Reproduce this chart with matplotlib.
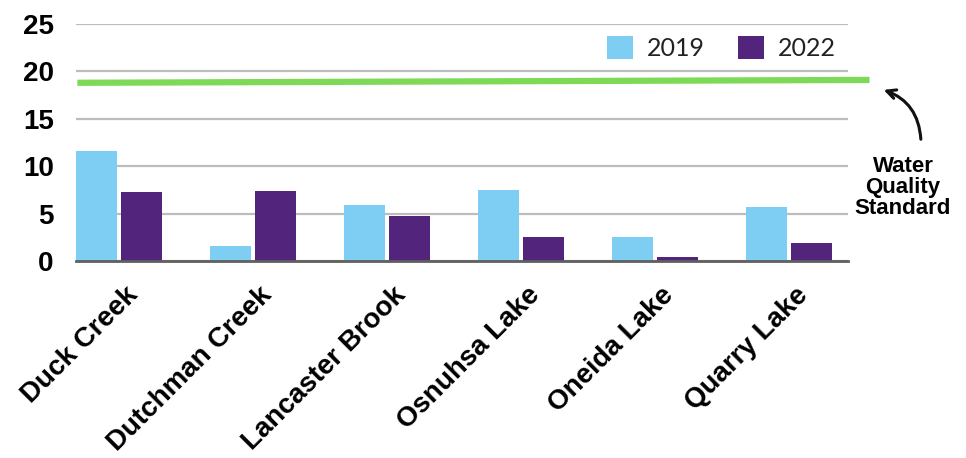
import numpy as np
import matplotlib.transforms as mtransforms
from matplotlib import pyplot as plt

sites = ['Duck Creek', 'Dutchman Creek', 'Lancaster Brook', 'Osnuhsa Lake', 'Oneida Lake', 'Quarry Lake']
values_2019 = [11.6, 1.6, 5.9, 7.5, 2.5, 5.7]
values_2022 = [7.3, 7.4, 4.7, 2.5, 0.4, 1.9]
standard_ends = [18.8, 19.1]
y_ticks = [0, 5, 10, 15, 20, 25]

blue = '#7ecef4'
purple = '#52247c'
green = '#7ed957'
bold_font = ['Liberation Sans', 'DejaVu Sans']

fig = plt.figure(figsize=(9.66, 4.58), dpi=100)
ax = fig.add_axes([76 / 966, 1 - 261 / 458, 772 / 966, 237 / 458])

x = np.arange(len(sites))
w = 0.306
off = 0.168
ax.bar(x - off, values_2019, w, color=blue, label='2019', zorder=3)
ax.bar(x + off, values_2022, w, color=purple, label='2022', zorder=3)

# standard line runs a bit past the plot area
ax.plot([-0.31, 5.60], standard_ends, color=green, lw=4.5, clip_on=False,
        solid_capstyle='butt', zorder=4)

ax.set_xlim(-0.32, 5.44)
ax.set_ylim(0, 25)
ax.set_yticks(y_ticks)
ax.set_yticklabels([str(t) for t in y_ticks], fontsize=20, fontweight='bold',
                   family=bold_font)
ax.tick_params(axis='y', length=0, pad=16)

ax.set_xticks(x)
ax.set_xticklabels(sites, rotation=45, ha='right', va='top', rotation_mode='anchor',
                   fontsize=20, fontweight='bold', family=bold_font)
ax.tick_params(axis='x', length=0, pad=15)
shift = mtransforms.ScaledTranslation(6 / 100, 0, fig.dpi_scale_trans)
for lab in ax.get_xticklabels():
    lab.set_transform(lab.get_transform() + shift)

ax.grid(axis='y', color='#bdbdbd', lw=1.6, zorder=0)
for s in ['top', 'right', 'left']:
    ax.spines[s].set_visible(False)
ax.spines['bottom'].set_color('#5f5f5f')
ax.spines['bottom'].set_linewidth(2)
ax.spines['bottom'].set_zorder(5)

leg = ax.legend(loc='upper right', bbox_to_anchor=(1.013, 1.044), ncol=2, frameon=False,
                handlelength=1.05, handleheight=1.05, handletextpad=0.55,
                columnspacing=1.3, prop={'family': 'Lato', 'size': 18})
for t in leg.get_texts():
    t.set_color('#222222')

ax.annotate('', xy=(881, 458 - 89), xycoords='figure pixels',
            xytext=(921, 458 - 142), textcoords='figure pixels',
            arrowprops=dict(arrowstyle='->', color='#111111', lw=2.2,
                            connectionstyle='arc3,rad=0.35', mutation_scale=16))
fig.text(903 / 966, 1 - 187 / 458, 'Water\nQuality\nStandard', ha='center', va='center',
         fontsize=16, fontweight='bold', family=bold_font, linespacing=1.0)

plt.savefig('out.png', dpi=100)
